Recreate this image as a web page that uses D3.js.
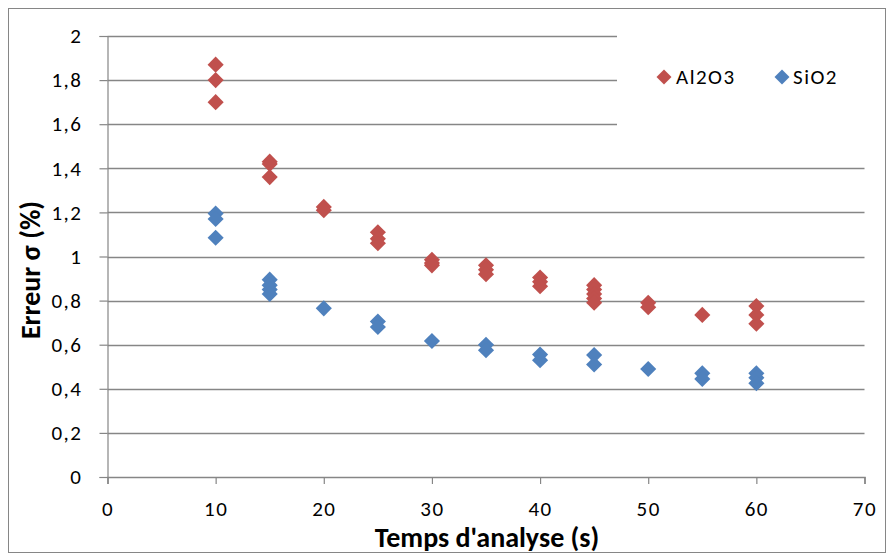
<!DOCTYPE html>
<html><head><meta charset="utf-8">
<script src="https://cdn.jsdelivr.net/npm/d3@7"></script>
<style>body{margin:0;background:#fff}svg{display:block}</style>
</head><body><svg id="c" width="889" height="554"></svg>
<script>
const xTicks = [0,10,20,30,40,50,60,70];
const yTicks = [0,0.2,0.4,0.6,0.8,1,1.2,1.4,1.6,1.8,2];
const al2o3 = [
  [10,1.87],[10,1.80],[10,1.70],
  [15,1.43],[15,1.42],[15,1.36],
  [20,1.225],[20,1.21],
  [25,1.11],[25,1.08],[25,1.06],
  [30,0.985],[30,0.97],[30,0.96],
  [35,0.96],[35,0.94],[35,0.92],
  [40,0.905],[40,0.885],[40,0.865],
  [45,0.87],[45,0.85],[45,0.83],[45,0.81],[45,0.79],
  [50,0.79],[50,0.77],
  [55,0.735],
  [60,0.775],[60,0.735],[60,0.695]
];
const sio2 = [
  [10,1.195],[10,1.17],[10,1.085],
  [15,0.895],[15,0.87],[15,0.85],[15,0.83],
  [20,0.765],
  [25,0.705],[25,0.68],
  [30,0.617],
  [35,0.60],[35,0.575],
  [40,0.555],[40,0.53],
  [45,0.553],[45,0.51],
  [50,0.49],
  [55,0.47],[55,0.445],
  [60,0.47],[60,0.45],[60,0.425]
];
const seriesNames = ["Al2O3","SiO2"];
const colors = ["#C0504D","#4F81BD"];

const svg = d3.select("#c");
const font = "Carlito, Calibri, 'Liberation Sans Narrow', 'Open Sans', sans-serif";
svg.append("rect").attr("x",8.5).attr("y",8.5).attr("width",877).attr("height",544)
  .attr("fill","#fff").attr("stroke","#868686").attr("stroke-width",1);

const x = d3.scaleLinear().domain([0,70]).range([107.5,864.5]);
const y = d3.scaleLinear().domain([0,2]).range([477,36]);
const gridCol = "#868686";

// gridlines
const legendLeft = 617;
svg.append("g").selectAll("line").data(yTicks.filter(d=>d>0)).join("line")
  .attr("x1",x(0)).attr("x2",d=> d>=1.6 ? legendLeft : x(70))
  .attr("y1",d=>Math.round(y(d))+0.5).attr("y2",d=>Math.round(y(d))+0.5)
  .attr("stroke",gridCol).attr("stroke-width",1.5);

// y axis
const ya = svg.append("g").attr("transform",`translate(${x(0)},0)`)
  .call(d3.axisLeft(y).tickValues(yTicks).tickSize(8).tickPadding(17)
    .tickFormat(d=>d3.format("~g")(d).replace(".",",")));
ya.select(".domain").attr("stroke",gridCol).attr("stroke-width",1.2);
ya.selectAll(".tick line").attr("stroke",gridCol).attr("stroke-width",1.2);
ya.selectAll("text").attr("font-family",font).attr("font-size",21).attr("letter-spacing","1.5px").attr("fill","#000");

// x axis
const xa = svg.append("g").attr("transform",`translate(0,${y(0)})`)
  .call(d3.axisBottom(x).tickValues(xTicks).tickSize(7).tickPadding(17));
xa.select(".domain").attr("stroke",gridCol).attr("stroke-width",1.5);
xa.selectAll(".tick line").attr("stroke",gridCol).attr("stroke-width",1.2);
xa.selectAll("text").attr("font-family",font).attr("font-size",21).attr("letter-spacing","1.5px").attr("fill","#000");

const diamond = d3.symbol().type(d3.symbolSquare).size(130);
[al2o3, sio2].forEach((data,i)=>{
  svg.append("g").selectAll("path").data(data).join("path")
    .attr("d",diamond)
    .attr("transform",d=>`translate(${x(d[0])},${y(d[1])}) rotate(45)`)
    .attr("fill",colors[i]);
});

// legend
const leg = [{x:664,tx:676},{x:782,tx:793}];
seriesNames.forEach((n,i)=>{
  svg.append("path").attr("d",d3.symbol().type(d3.symbolSquare).size(112))
    .attr("transform",`translate(${leg[i].x},77) rotate(45)`).attr("fill",colors[i]);
  svg.append("text").attr("x",leg[i].tx).attr("y",84).text(n)
    .attr("font-family",font).attr("font-size",21).attr("letter-spacing","1.5px").attr("fill","#000");
});

// axis titles
svg.append("text").attr("x",487).attr("y",547).attr("text-anchor","middle")
  .attr("font-family",font).attr("font-size",28).attr("font-weight","bold")
  .text("Temps d'analyse (s)");
svg.append("text").attr("transform","translate(40,270) rotate(-90)").attr("text-anchor","middle")
  .attr("font-family",font).attr("font-size",28).attr("font-weight","bold")
  .text("Erreur σ (%)");
</script></body></html>
